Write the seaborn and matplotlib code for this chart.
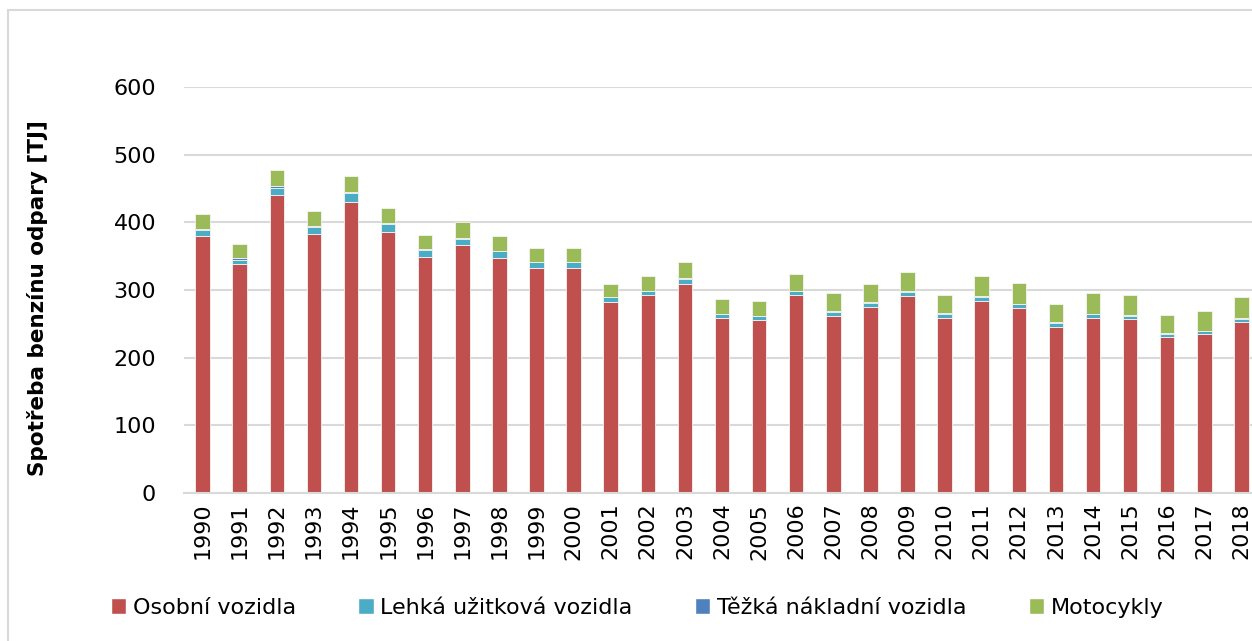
import pandas as pd
import matplotlib.pyplot as plt
import seaborn as sns
from matplotlib.patches import Rectangle, Patch

sns.set_style('white')
plt.rcParams['font.family'] = ['DejaVu Sans']
plt.rcParams['text.color'] = 'black'

# data (TJ)
years = list(range(1990, 2019))
osobni = [380, 338, 441, 383, 430, 386, 349, 367, 348, 333, 333, 283, 292, 309, 258,
          255, 292, 262, 275, 291, 259, 284, 274, 246, 259, 257, 231, 235, 253]
lehka = [8, 7, 10, 10, 13, 11, 10, 9, 9, 8, 8, 6, 6, 7, 6,
         6, 6, 6, 6, 6, 6, 6, 5, 5, 5, 5, 4, 4, 4]
tezka = [2, 2, 2, 2, 2, 2, 1, 1, 1, 1, 1, 1, 1, 2, 1,
         1, 1, 1, 1, 1, 1, 1, 1, 1, 1, 1, 1, 1, 1]
moto = [23, 21, 24, 22, 23, 22, 21, 23, 22, 20, 20, 19, 21, 23, 21,
        22, 24, 26, 27, 28, 26, 29, 30, 28, 30, 30, 27, 29, 32]

labels = ['Osobní vozidla', 'Lehká užitková vozidla', 'Těžká nákladní vozidla', 'Motocykly']
colors = ['#C0504D', '#4BACC6', '#4F81BD', '#9BBB59']

df = pd.concat([
    pd.DataFrame({'rok': years, 'hodnota': vals, 'kategorie': lab})
    for vals, lab in zip([osobni, lehka, tezka, moto], labels)
])

fig = plt.figure(figsize=(12.52, 6.41), dpi=100)
ax = fig.add_axes([184 / 1252, 1 - 493 / 641, 1076 / 1252, 406 / 641])

# seaborn stacks the first hue level on top, so pass the order reversed
sns.histplot(data=df, x='rok', weights='hodnota', hue='kategorie',
             hue_order=labels[::-1], palette=dict(zip(labels, colors)),
             multiple='stack', discrete=True, shrink=0.39, alpha=1,
             edgecolor='#f4f4f4', linewidth=0.6, legend=False, ax=ax)

ax.set_xlim(1989.5, 2018.5)
ax.set_ylim(0, 600)
ax.set_yticks(range(0, 601, 100))
ax.set_xticks(years)
ax.set_xticklabels([str(y) for y in years], rotation=90)
ax.tick_params(axis='both', length=0, labelsize=16, colors='black')
ax.tick_params(axis='y', pad=20)
ax.tick_params(axis='x', pad=7)
ax.yaxis.grid(True, color='#D9D9D9', linewidth=1.5)
ax.set_axisbelow(True)
for s in ['top', 'right', 'left']:
    ax.spines[s].set_visible(False)
ax.spines['bottom'].set_color('#D9D9D9')
ax.spines['bottom'].set_linewidth(1.5)
ax.set_xlabel('')
ax.set_ylabel('')

fig.text(38 / 1252, 1 - 298 / 641, 'Spotřeba benzínu odpary [TJ]', rotation=90,
         ha='center', va='center', fontsize=15.5, fontweight='bold', color='black')

handles = [Patch(facecolor=c, label=l) for c, l in zip(colors, labels)]
fig.legend(handles=handles, loc='center', bbox_to_anchor=(0.509, 1 - 608 / 641),
           ncol=4, frameon=False, fontsize=16, handlelength=0.7, handleheight=0.7,
           handletextpad=0.3, columnspacing=2.8, labelcolor='black')

# outer chart border
fig.patches.append(Rectangle((8 / 1252, -0.1), 2, 1 - 10 / 641 + 0.1,
                             transform=fig.transFigure, fill=False,
                             edgecolor='#D9D9D9', linewidth=1.5))

fig.savefig('out.png', dpi=100)
